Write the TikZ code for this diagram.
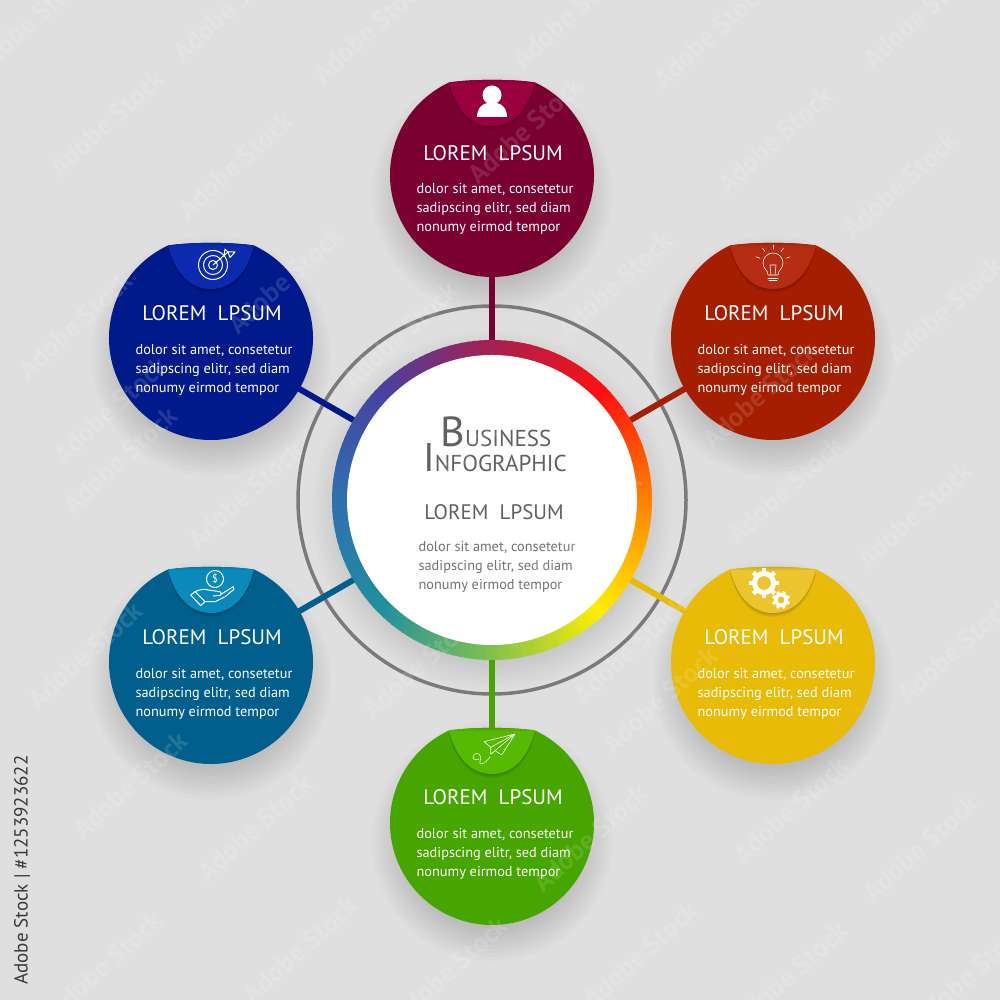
\documentclass[tikz,border=0pt]{standalone}
\usepackage{fontspec}
\setmainfont{PT Sans}
\usetikzlibrary{calc}
\usetikzlibrary{scopes}

\definecolor{pagebg}{HTML}{DFDFDF}
\definecolor{crimsonB}{HTML}{7A0030}
\definecolor{crimsonC}{HTML}{9A0040}
\definecolor{brickB}{HTML}{A51E00}
\definecolor{brickC}{HTML}{B62C12}
\definecolor{amberB}{HTML}{E8BB08}
\definecolor{amberC}{HTML}{ECC52C}
\definecolor{grassB}{HTML}{47A500}
\definecolor{grassC}{HTML}{55BA00}
\definecolor{tealB}{HTML}{005F8C}
\definecolor{tealC}{HTML}{0A8ABA}
\definecolor{navyB}{HTML}{011A8B}
\definecolor{navyC}{HTML}{0A2BB0}
\definecolor{ringA}{HTML}{A8204F}
\definecolor{ringB}{HTML}{FF1010}
\definecolor{ringC}{HTML}{FF8400}
\definecolor{ringD}{HTML}{FFEE00}
\definecolor{ringE}{HTML}{7FC050}
\definecolor{ringF}{HTML}{1F8FA0}
\definecolor{ringG}{HTML}{2F6FB0}
\definecolor{ringH}{HTML}{4A40A0}

\newcommand{\capshape}{(-43,92.5) .. controls (-36,64) and (-20,49) .. (0,49) .. controls (20,49) and (36,64) .. (43,92.5) .. controls (20,96) and (-20,96) .. (-43,92.5) -- cycle}

\begin{document}
\begin{tikzpicture}[
    x=1pt,y=1pt,
    satellite/.style={circle,inner sep=0pt,minimum size=204pt},
    link/.style={line width=6pt},
    outerring/.style={draw=black!52,line width=3.5pt},
    headline/.style={font=\fontsize{21}{24}\selectfont,inner sep=0pt},
    blurb/.style={font=\fontsize{14.3}{19}\selectfont,align=left,inner sep=0pt},
    icon/.style={draw=white,line width=1pt,line join=round,line cap=round},
    thinicon/.style={draw=white,line width=0.6pt,line join=round,line cap=round},
    stamp/.style={white,opacity=0.13,font=\bfseries\fontsize{27}{27}\selectfont,rotate=42,inner sep=0pt},
]
    \useasboundingbox (0,0) rectangle (1000,1000);
    \fill[pagebg] (0,0) rectangle (1000,1000);

    % Anchors for hub and satellites
    \node[satellite,minimum size=290pt] (hub) at (492,500) {};
    \node[satellite] (crimson) at (492,825) {};
    \node[satellite] (brick) at (773,662) {};
    \node[satellite] (amber) at (773,338) {};
    \node[satellite] (grass) at (492,177) {};
    \node[satellite] (teal) at (211,338) {};
    \node[satellite] (navy) at (211,662) {};

    % Soft shadows
    \foreach \r in {140,144,...,180}
        \fill[black,opacity=0.012] ($(hub)+(0,-10)$) circle[radius=\r];
    \foreach \n in {crimson,brick,amber,grass,teal,navy}
        \foreach \r in {80,84,...,120}
            \fill[black,opacity=0.016] ($(\n)+(0,-18)$) circle[radius=\r];

    \draw[outerring] (hub) circle[radius=194];
    \foreach \n in {crimson,brick,amber,grass,teal,navy}
        \draw[link,draw=\n B] (hub.center) -- (\n.center);

    % Hub ring, colour by colour
    \foreach \a/\ca/\cb in {90/ringA/ringB,45/ringB/ringC,0/ringC/ringD,-45/ringD/ringE,-90/ringE/ringF,-135/ringF/ringG,-180/ringG/ringH,-225/ringH/ringA}
        \foreach \t in {0,5,...,95} {
            \pgfmathsetmacro{\s}{\a-0.45*\t}
            \fill[\cb!\t!\ca] (hub.center) -- ++(\s:160) arc[start angle=\s,end angle=\s-3,radius=160] -- cycle;
        }
    \fill[white] (hub.center) circle[radius=145];

    % Satellites
    \foreach \n/\ty/\by in {crimson/22/-34,brick/25/-32,amber/25/-32,grass/26/-31,teal/25/-32,navy/25/-32} {
        \begin{scope}[shift={(\n.center)}]
            \fill[\n B] (65:102) arc[start angle=65,end angle=-245,radius=102] .. controls (-20,96) and (20,96) .. (65:102) -- cycle;
            \foreach \d in {1,2,3,4}
                \fill[black,opacity=0.05,yshift=-\d pt] \capshape;
            \fill[\n C] \capshape;
            \begin{scope}
                \clip \capshape;
                \foreach \d in {2,4,6}
                    \fill[black,opacity=0.07] (-45,90+\d) rectangle (45,97);
            \end{scope}
        \end{scope}
        \node[headline,white] (\n-title) at ($(\n)+(1,\ty)$) {LOREM\ \ LPSUM};
        \node[blurb,white] (\n-text) at ($(\n)+(3,\by)$) {dolor sit amet, consetetur\\sadipscing elitr, sed diam\\nonumy eirmod tempor};
    }

    % Hub texts
    \node[inner sep=0pt,text=black!62,anchor=base] (hub-name) at (496,553) {\fontsize{42}{42}\selectfont B\fontsize{23}{23}\selectfont USINESS};
    \node[inner sep=0pt,text=black!62,anchor=base] (hub-info) at (495,528) {\fontsize{40}{40}\selectfont I\fontsize{23}{23}\selectfont NFOGRAPHIC};
    \node[headline,text=black!62] (hub-title) at (494,488) {LOREM\ \ LPSUM};
    \node[blurb,text=black!55] (hub-text) at (497,433) {dolor sit amet, consetetur\\sadipscing elitr, sed diam\\nonumy eirmod tempor};

    % Person
    {[shift={(crimson.center)}]
        \fill[white] (0,80) circle[radius=9.5];
        \fill[white] (-15,58) .. controls (-15,67) and (-9,72) .. (-4,72) -- (4,72) .. controls (9,72) and (15,67) .. (15,58) -- cycle;
    }
    % Bulb
    {[shift={(brick.center)},thinicon]
        \draw (-5,63) .. controls (-5,68) and (-10,69) .. (-10,75) arc[start angle=180,end angle=0,radius=10] .. controls (10,69) and (5,68) .. (5,63) -- cycle;
        \draw (-5,60) -- (5,60) (-4,57.5) -- (4,57.5);
        \draw (-2,63) -- (-3,73) (2,63) -- (3,73) (-3,73) -- (3,73);
        \foreach \a in {20,55,90,125,160}
            \draw (\a:14) ++(0,75) -- ++(\a:4);
    }
    % Target
    {[shift={(navy.center)},icon]
        \draw (2,73) circle[radius=14.5] (2,73) circle[radius=9.5] (2,73) circle[radius=4.5];
        \draw (2,73) -- (17,86);
        \draw (13,82) -- (14,89) -- (17,86) -- (24,86) -- (19,80.5) -- (17,86);
    }
    % Hand and coin
    {[shift={(teal.center)},icon]
        \draw (4,83) circle[radius=8.5];
        \node[inner sep=0pt,white,font=\fontsize{11}{11}\selectfont] (coin) at (4,83) {\$};
        \draw (-20.3,67) -- (-16,70.3) -- (-6,60.3) -- (-10.3,56.3) -- cycle;
        \draw (-16,70.3) .. controls (-11,73) and (-5,73) .. (-2.7,72) -- (9,70.3) .. controls (11,69.5) and (11,67) .. (9,66.5) -- (2.3,66);
        \draw (10,67.7) -- (22.3,75.3) -- (23,72.7) -- (14,65.3) -- (4,60.3) -- (-6,60.3);
    }
    % Gears
    {[shift={(amber.center)}]
        \draw[white,line width=5pt] (-9,79) circle[radius=9.5];
        \foreach \a in {0,45,...,315}
            \draw[white,line width=4.5pt] ($(-9,79)+(\a:10)$) -- ($(-9,79)+(\a:15)$);
        \draw[white,line width=3.5pt] (8,62) circle[radius=5.5];
        \foreach \a in {22,67,...,337}
            \draw[white,line width=2.8pt] ($(8,62)+(\a:6)$) -- ($(8,62)+(\a:9)$);
    }
    % Paper plane
    {[shift={(grass.center)},thinicon]
        \draw (23,89) -- (-8,81.3) -- (-1.3,75.7) -- cycle;
        \draw (-1.3,75.7) -- (-1.3,68.7) -- (3,72.3) -- (23,89) -- (9.7,68) -- (3,72.3);
        \draw[dashed,dash pattern=on 1.5pt off 0.8pt] (-2,66) .. controls (-8,58) and (-14,57) .. (-12,62) .. controls (-9,68) and (-15,72) .. (-18,68) .. controls (-21,64) and (-17,62) .. (-13,64);
    }

    % Stock marks
    \foreach \i/\x/\y in {1/30/22,2/107/123,3/235/165,4/370/30,5/230/8,6/710/35,7/775/140,8/900/185,9/570/15,10/920/15,%
        11/525/130,12/75/325,13/615/285,14/945/310,15/120/460,16/245/495,17/400/335,18/785/490,19/915/515,20/85/655,%
        21/420/665,22/630/650,23/955/650,24/130/785,25/255/828,26/790/810,27/920/848,28/590/838,29/300/950,30/105/965,%
        31/450/970,32/640/955,33/790/975,34/970/975,35/450/465,36/585/525,37/285/280,38/110/410,39/760/395,40/660/700}
        \node[stamp] (stamp\i) at (\x,1000-\y) {Adobe Stock};

    \node[rotate=90,inner sep=0pt,text=black!78,font=\fontsize{19}{19}\selectfont] (stock-label) at (22,130) {Adobe Stock | \#1253923622};
\end{tikzpicture}
\end{document}
